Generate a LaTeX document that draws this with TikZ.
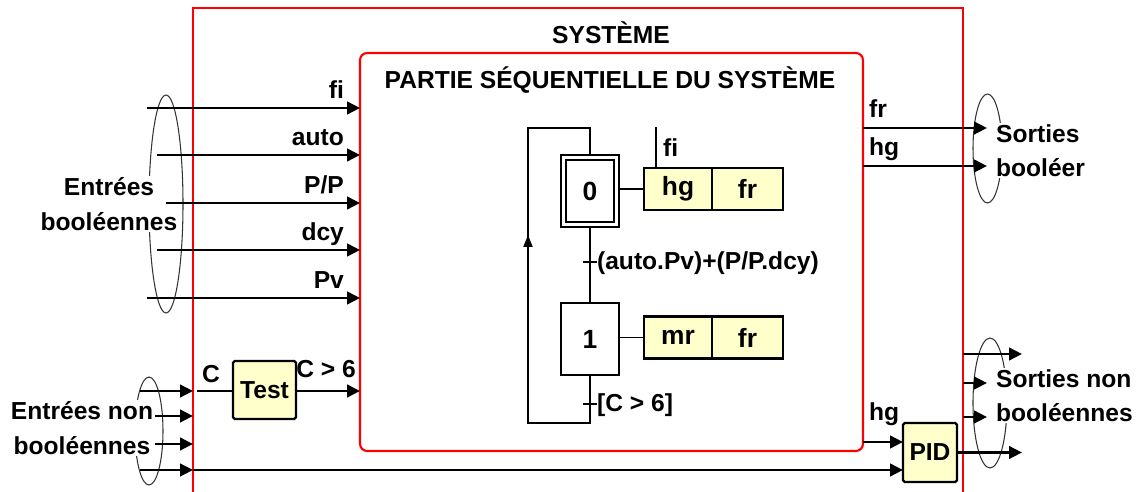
\documentclass[tikz,border=0pt]{standalone}
\usepackage{fontspec}
\setmainfont{Liberation Sans}
\usetikzlibrary{arrows.meta,positioning}
\definecolor{actfill}{RGB}{255,255,204}
\tikzset{
  txt/.style={font=\bfseries\fontsize{14}{19.5}\selectfont, inner sep=1pt},
  arr/.style={line width=1.6pt, -{Triangle[length=0.26cm,width=0.25cm]}},
  wire/.style={line width=1.6pt},
  gline/.style={line width=1.1pt},
  sysbox/.style={draw=red, line width=1.2pt},
  grp/.style={draw=black!80, line width=0.6pt},
  grptxt/.style={txt, fill=white},
  stepbox/.style={draw, line width=1.2pt, minimum width=1.16cm, minimum height=1.44cm, txt, font=\bfseries\fontsize{15}{18}\selectfont},
  actbox/.style={draw, line width=1.2pt, fill=actfill, minimum height=0.84cm, outer sep=0pt, txt, font=\bfseries\fontsize{15}{18}\selectfont},
  blockbox/.style={draw, line width=1.3pt, fill=actfill, rounded corners=1pt, outer sep=0pt, txt},
}
\begin{document}
\begin{tikzpicture}[x=0.02cm, y=-0.02cm]
    \useasboundingbox (0,0) rectangle (1137,492);
    % Systeme
    \draw[sysbox] (193,492) -- (193,8) -- (963,8) -- (963,492);
    \node[txt] (systeme) at (611,33) {SYSTÈME};
    \node[sysbox, rounded corners=4pt, minimum width=10.06cm, minimum height=7.96cm, outer sep=0pt] (partie) at (611.5,252) {};
    \node[txt] (partietitre) at (610,80) {PARTIE SÉQUENTIELLE DU SYSTÈME};
    % Entrees booleennes
    \draw[grp] (166,204) ellipse [x radius=17, y radius=109];
    \node[grptxt, align=center] (eb) at (109,204) {Entrées\\booléennes};
    \foreach \y/\x/\nm/\lab in {108/147/fi/fi, 155/157/auto/auto, 203/166/pp/{P/P}, 250/157/dcy/dcy, 298/147/pv/Pv} {
      \coordinate (in-\nm) at (\x,\y);
      \draw[arr] (in-\nm) -- (in-\nm -| partie.west);
      \node[txt, anchor=base east] (lab-\nm) at (346,\y-9) {\lab};
    }
    % Entrees non booleennes
    \draw[grp] (149,431) ellipse [x radius=14, y radius=54];
    \node[grptxt, align=center] (enb) at (82,428) {Entrées non\\booléennes};
    \foreach \y/\x in {391/140, 416/155, 444/155, 470/140} {
      \coordinate (nb\y) at (\x,\y);
      \coordinate (sb\y) at (193,\y);
      \draw[arr] (nb\y) -- (sb\y);
    }
    \node[blockbox, minimum width=1.26cm, minimum height=1.16cm] (test) at (264.5,390) {Test};
    \coordinate (cin) at (197,391);
    \draw[wire] (cin) -- (cin -| test.west);
    \node[txt, anchor=base] (lab-c) at (211,383) {C};
    \draw[arr] (test.east |- cin) -- (cin -| partie.west);
    \node[txt, anchor=base east] (lab-c6) at (358,378) {C > 6};
    % PID
    \node[blockbox, minimum width=1.08cm, minimum height=1.18cm] (pid) at (930,452.5) {PID};
    \draw[arr] (sb470) -- (sb470 -| pid.west);
    \coordinate (hgpid) at (863,442);
    \draw[arr] (hgpid) -- (hgpid -| pid.west);
    \node[txt, anchor=base west] (lab-hgpid) at (867,421) {hg};
    % Sorties booleennes
    \draw[grp] (987.5,148.5) ellipse [x radius=14.5, y radius=54.5];
    \coordinate (fr-out) at (987,128);
    \coordinate (hg-out) at (987,166);
    \draw[arr] (fr-out -| partie.east) -- (fr-out);
    \draw[arr] (hg-out -| partie.east) -- (hg-out);
    \node[txt, anchor=base west] (lab-fr) at (867,118) {fr};
    \node[txt, anchor=base west] (lab-hg) at (867,156) {hg};
    \node[grptxt, align=left, anchor=west] (sb) at (994,150.5) {Sorties\\booléer};
    % Sorties non booleennes
    \draw[grp] (990,403) ellipse [x radius=17, y radius=65];
    \foreach \y/\x in {354/1022, 383/987, 417/987} {
      \coordinate (snb\y) at (\x,\y);
      \draw[arr] (963,\y) -- (snb\y);
    }
    \coordinate (pid-out) at (1022,452.5);
    \draw[arr] (pid.east) -- (pid-out);
    \node[grptxt, align=left, anchor=west] (snb) at (994,395.5) {Sorties non\\booléennes};
    % Grafcet
    \node[stepbox] (s0) at (590,191) {0};
    \node[draw, line width=1.2pt, minimum width=0.96cm, minimum height=1.24cm] (s0i) at (s0) {};
    \node[stepbox] (s1) at (590,339) {1};
    \node[actbox, minimum width=1.36cm] (hg0) at (678,189) {hg};
    \node[actbox, minimum width=1.42cm, right=0pt of hg0] (fr0) {fr};
    \node[actbox, minimum width=1.36cm] (mr1) at (678,337.5) {mr};
    \node[actbox, minimum width=1.42cm, right=0pt of mr1] (fr1) {fr};
    \draw[gline] (s0.east |- hg0) -- (hg0.west);
    \draw[gline] (s1.east |- mr1) -- (mr1.west);
    \coordinate (fitop) at (656,127);
    \draw[gline] (hg0.north -| fitop) -- (fitop);
    \node[txt, anchor=base west] (lab-fi0) at (661,157) {fi};
    % Transitions
    \coordinate (t1) at (590,262);
    \coordinate (t2) at (590,404);
    \draw[gline] (s0.south) -- (s1.north);
    \draw[gline] (t1) +(-7,0) -- +(7,0);
    \draw[gline] (t2) +(-7,0) -- +(7,0);
    \node[txt, anchor=west] (lab-t1) at (595,263) {(auto.Pv)+(P/P.dcy)};
    \node[txt, anchor=west] (lab-t2) at (595,405) {[C > 6]};
    % Loop back
    \coordinate (lb1) at (590,423);
    \coordinate (lb2) at (528,423);
    \coordinate (lb3) at (528,128);
    \coordinate (lb4) at (590,128);
    \coordinate (lbtip) at (528,235);
    \draw[gline] (s1.south) -- (lb1) -- (lb2) -- (lb3) -- (lb4) -- (s0.north);
    \draw[gline, -{Triangle[length=0.24cm,width=0.18cm]}] (lb2) -- (lbtip);
\end{tikzpicture}
\end{document}
